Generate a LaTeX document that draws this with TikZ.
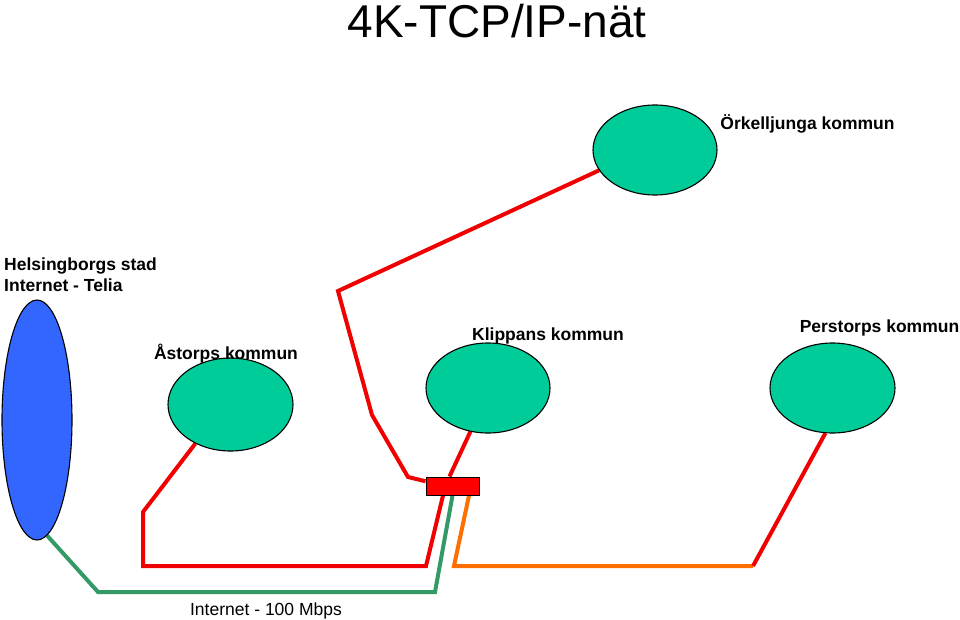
\documentclass[tikz,border=0pt]{standalone}
\usepackage{fontspec}
\setmainfont{Liberation Sans}
\usetikzlibrary{shapes.geometric,backgrounds}
\definecolor{kgreen}{RGB}{0,204,153}
\definecolor{kblue}{RGB}{51,102,255}
\definecolor{kred}{RGB}{240,0,0}
\definecolor{lgreen}{RGB}{51,153,102}
\definecolor{korange}{RGB}{255,110,0}
\tikzset{
  muni/.style={ellipse, draw=black, line width=1.1pt, fill=kgreen, minimum width=124pt, minimum height=90pt, inner sep=0pt},
  lbl/.style={font=\fontsize{17.5}{20}\selectfont\bfseries, inner sep=0pt, anchor=base},
  plain/.style={font=\fontsize{17.5}{20}\selectfont, inner sep=0pt, anchor=base},
  link/.style={line width=4pt, line join=miter},
}
\begin{document}
\begin{tikzpicture}[x=1pt,y=-1pt]
\useasboundingbox (0,0) rectangle (960,620);
\node[inner sep=0pt, anchor=base, font=\fontsize{46}{50}\selectfont] (title) at (497,38) {4K-TCP/IP-nät};

\node[muni] (ork) at (655,150) {};
\node[muni, minimum width=125pt, minimum height=93pt] (ast) at (230.5,404.5) {};
\node[muni] (kli) at (488,388) {};
\node[muni, minimum width=125pt] (per) at (832.5,388) {};
\node[ellipse, draw=black, line width=1.1pt, fill=kblue, minimum width=70pt, minimum height=240pt, inner sep=0pt] (hbg) at (37,420) {};

\node[lbl] (orklbl) at (807.5,130) {Örkelljunga kommun};
\node[lbl, anchor=base west] (hbglbl1) at (4,270) {Helsingborgs stad};
\node[lbl, anchor=base west] (hbglbl2) at (4,291) {Internet - Telia};
\node[lbl] (astlbl) at (226,359) {Åstorps kommun};
\node[lbl] (klilbl) at (548,340) {Klippans kommun};
\node[lbl] (perlbl) at (879.5,332) {Perstorps kommun};
\node[plain] (netlbl) at (266,615) {Internet - 100 Mbps};

\node[rectangle, draw=black, line width=1pt, fill=red, minimum width=53pt, minimum height=18pt, inner sep=0pt] (box) at (452.5,486) {};

\begin{pgfonlayer}{background}
\draw[link, kred] (ork.200) -- (338,291) -- (372,415) -- (408,477) -- (box.170);
\draw[link, kred] (kli.248) -- ([xshift=-3pt]box.north);
\draw[link, kred] (ast.228) -- (143,512) -- (143,566) -- (426,566) -- ([xshift=-9.5pt]box.south);
\draw[link, lgreen] (hbg.275) -- (98,592) -- (435,592) -- (box.south);
\draw[link, korange] ([xshift=16.5pt]box.south) -- (454,566) -- (753,566);
\draw[link, kred] (753,566) -- (per.261);
\end{pgfonlayer}
\end{tikzpicture}
\end{document}
